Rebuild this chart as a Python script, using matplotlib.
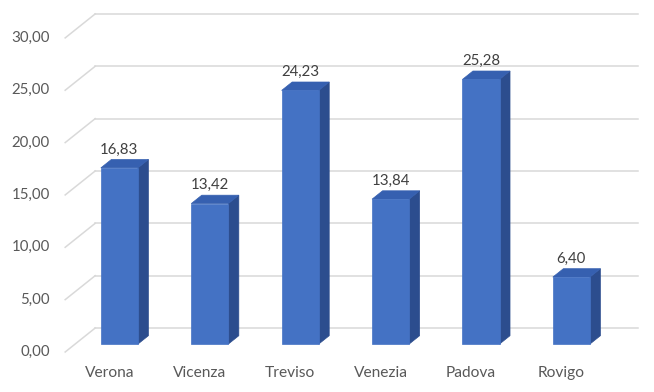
import matplotlib
matplotlib.use("Agg")
import matplotlib.pyplot as plt
from matplotlib.patches import Polygon

# Data
categories = ["Verona", "Vicenza", "Treviso", "Venezia", "Padova", "Rovigo"]
values = [16.83, 13.42, 24.23, 13.84, 25.28, 6.40]
yticks = [0, 5, 10, 15, 20, 25, 30]

def fmt(v):
    return f"{v:.2f}".replace(".", ",")

# Oblique 3D projection parameters (in data units)
DX, DY = 0.332, 2.29          # full depth of the floor / walls
BAR_FRONT, BAR_BACK = 0.33, 0.68  # depth fractions of the bar faces
BAR_W = 0.41
WALL_L, WALL_R = -0.49, 5.52

FRONT = "#4472C4"
SIDE = "#2C4D8E"
TOP = "#3660B0"
GRID = "#D9D9D9"
TXT = "#595959"

def P(x, v, d):
    return (x + d * DX, v + d * DY)

plt.rcParams["font.family"] = ["Lato", "DejaVu Sans"]

fig = plt.figure(figsize=(6.54, 3.92), dpi=100)
ax = fig.add_axes([0, 0, 1, 1])
ax.set_xlim(-1.211, -1.211 + 654 / 90.4)
ax.set_ylim(-40 / 10.47, -40 / 10.47 + 392 / 10.47)
ax.axis("off")

# Back wall gridlines and left wall diagonals
for t in yticks:
    x0, y0 = P(WALL_L, t, 1)
    x1, y1 = P(WALL_R, t, 1)
    ax.plot([x0, x1], [y0, y1], color=GRID, lw=1.1, zorder=1)
    xa, ya = P(WALL_L, t, 0)
    ax.plot([xa, x0], [ya, y0], color=GRID, lw=1.1, zorder=1)
    ax.text(WALL_L - 0.17, t, fmt(t), ha="right", va="center",
            fontsize=10.8, color=TXT)

# Bars
for i, (cat, v) in enumerate(zip(categories, values)):
    xl, xr = i - BAR_W / 2, i + BAR_W / 2
    f_bl = P(xl, 0, BAR_FRONT); f_br = P(xr, 0, BAR_FRONT)
    f_tl = P(xl, v, BAR_FRONT); f_tr = P(xr, v, BAR_FRONT)
    b_br = P(xr, 0, BAR_BACK); b_tr = P(xr, v, BAR_BACK)
    b_tl = P(xl, v, BAR_BACK)
    ax.add_patch(Polygon([f_br, b_br, b_tr, f_tr], closed=True,
                         facecolor=SIDE, edgecolor=SIDE, lw=0.5, zorder=3))
    ax.add_patch(Polygon([f_tl, f_tr, b_tr, b_tl], closed=True,
                         facecolor=TOP, edgecolor=TOP, lw=0.5, zorder=3))
    ax.add_patch(Polygon([f_bl, f_br, f_tr, f_tl], closed=True,
                         facecolor=FRONT, edgecolor=FRONT, lw=0.5, zorder=4))
    lx, ly = P(i, v, BAR_FRONT)
    ax.text(lx, ly + 1.75, fmt(v), ha="center", va="center",
            fontsize=10.8, color="#404040", zorder=5)
    ax.text(i, -2.0, cat, ha="center", va="center", fontsize=11.2,
            color=TXT)

fig.savefig("out.png", dpi=100)
